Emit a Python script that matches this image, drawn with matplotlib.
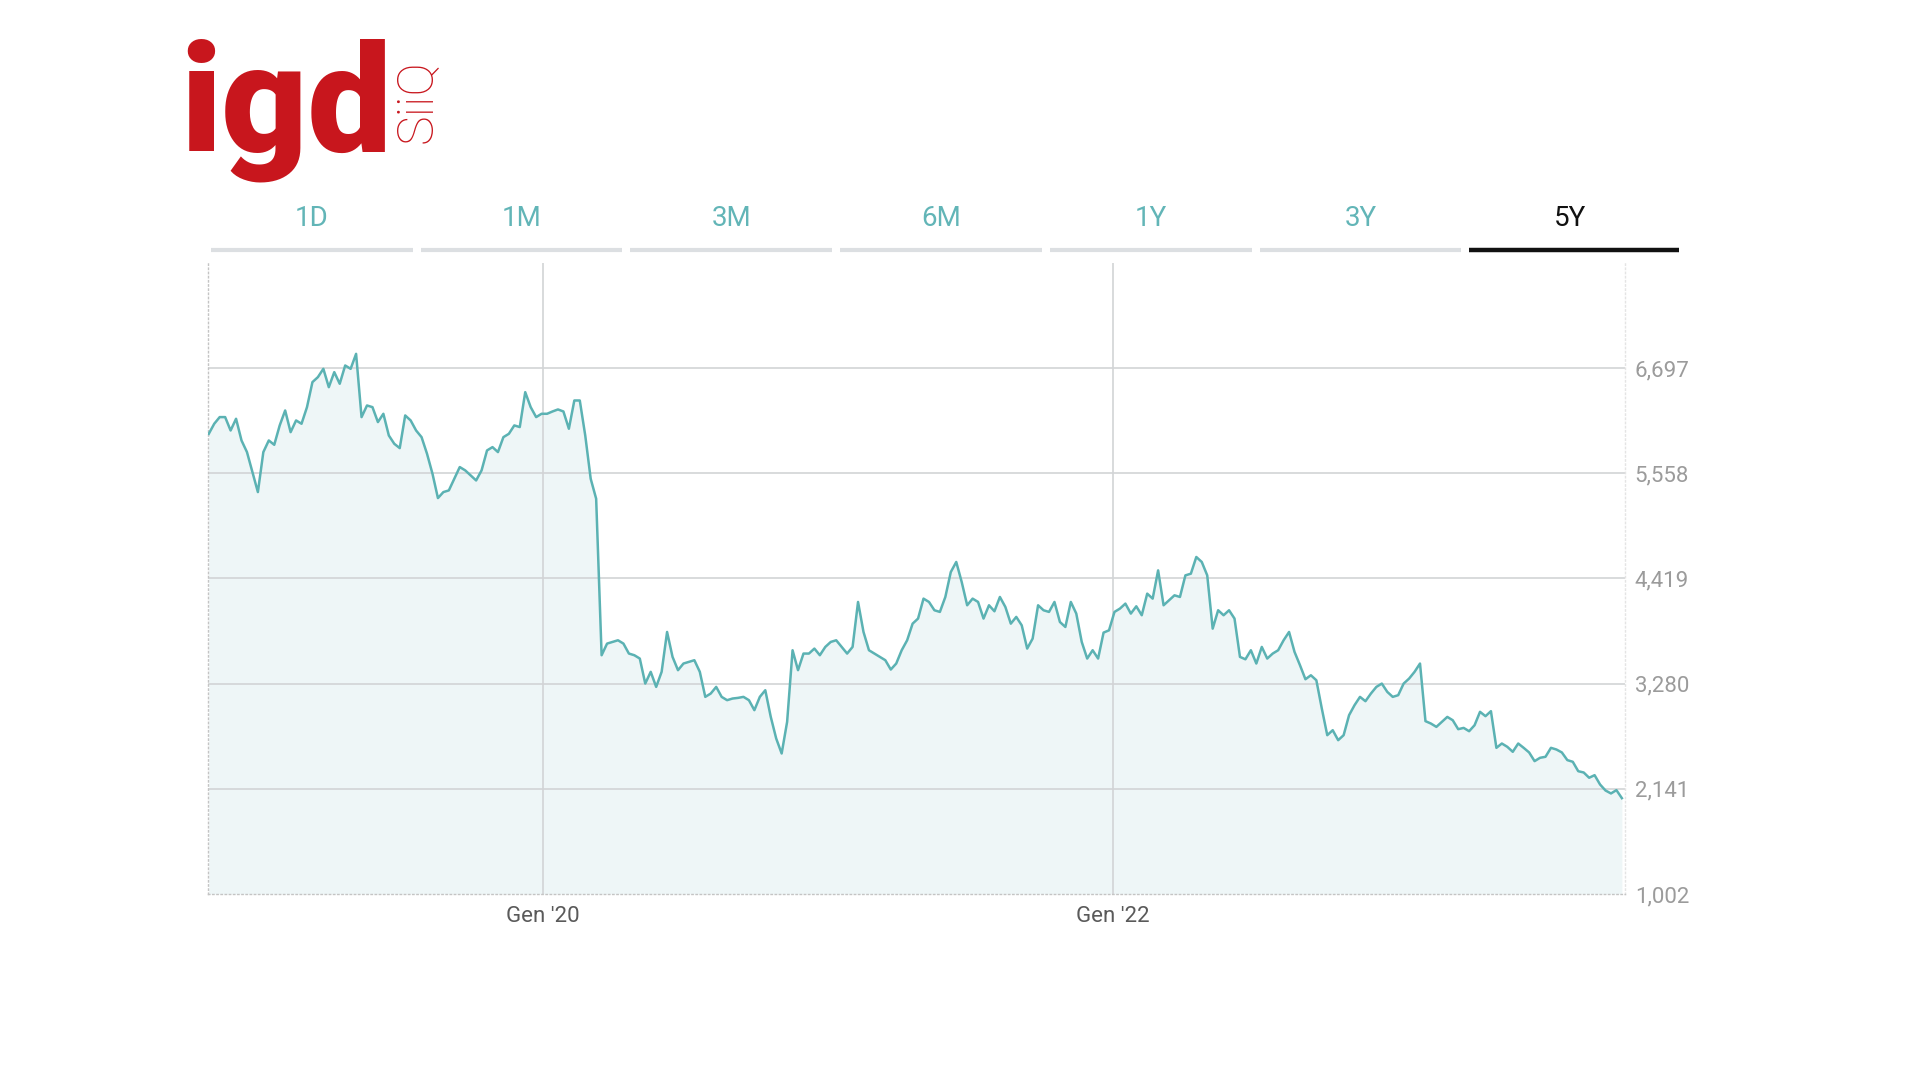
"""
IGD SIIQ - andamento titolo 5Y (chiusure settimanali)
"""

import pandas as pd
import matplotlib.pyplot as plt
import matplotlib

matplotlib.rcParams['font.family'] = ['Roboto', 'DejaVu Sans']

# ====== Dati ======
start_date = '2018-10-29'   # primo lunedi' della finestra 5Y, chiusure settimanali

# Nov 2018 - Ago 2019
closes_1 = [5986, 6095, 6167, 6167, 6022, 6149, 5914, 5788, 5572, 5355,
            5788, 5914, 5867, 6077, 6239, 6004, 6131, 6095, 6275, 6546,
            6600, 6690, 6491, 6654, 6528, 6726, 6690, 6852, 6167, 6293,
            6275, 6113, 6203, 5968, 5878, 5831, 6185, 6131, 6022, 5950,
            5770, 5554, 5290, 5355]
# Set 2019 - Giu 2020
closes_2 = [5373, 5499, 5626, 5590, 5536, 5481, 5590, 5806, 5842, 5788,
            5950, 5986, 6077, 6059, 6437, 6275, 6167, 6203, 6203, 6228,
            6250, 6228, 6041, 6347, 6347, 5968, 5499, 5283, 3588, 3714,
            3732, 3750, 3714, 3606, 3588, 3552, 3281, 3408, 3245, 3408,
            3840, 3570, 3426, 3498]
# Lug 2020 - Mag 2021
closes_3 = [3516, 3534, 3408, 3137, 3173, 3245, 3137, 3101, 3119, 3126,
            3137, 3101, 2993, 3137, 3209, 2921, 2686, 2524, 2866, 3642,
            3426, 3606, 3606, 3660, 3588, 3678, 3732, 3750, 3678, 3606,
            3678, 4165, 3840, 3642, 3606, 3570, 3534, 3433, 3498, 3642,
            3750, 3930, 3985, 4201]
# Mag 2021 - Mar 2022
closes_4 = [4165, 4075, 4057, 4219, 4489, 4598, 4381, 4129, 4201, 4165,
            3985, 4129, 4064, 4219, 4111, 3930, 4003, 3912, 3660, 3768,
            4129, 4075, 4057, 4165, 3948, 3894, 4165, 4039, 3732, 3552,
            3642, 3552, 3833, 3858, 4057, 4093, 4147, 4039, 4118, 4021,
            4255, 4201, 4507, 4129]
# Mar 2022 - Gen 2023
closes_5 = [4183, 4237, 4219, 4453, 4471, 4652, 4598, 4453, 3876, 4075,
            4021, 4075, 3985, 3570, 3544, 3642, 3498, 3678, 3552, 3606,
            3642, 3750, 3840, 3624, 3480, 3328, 3371, 3317, 3011, 2722,
            2776, 2668, 2722, 2939, 3047, 3137, 3090, 3173, 3245, 3281,
            3191, 3137, 3155, 3281]
# Gen 2023 - Ott 2023
closes_6 = [3335, 3408, 3498, 2874, 2848, 2812, 2866, 2920, 2884, 2787,
            2801, 2765, 2830, 2975, 2928, 2982, 2585, 2632, 2596, 2542,
            2632, 2585, 2535, 2441, 2477, 2488, 2585, 2567, 2535, 2452,
            2434, 2332, 2318, 2261, 2289, 2188, 2123, 2091, 2127, 2040]

y_ticks = [1002, 2141, 3280, 4419, 5558, 6697]
x_ticks = ['2020-01-01', '2022-01-01']
x_labels = ["Gen '20", "Gen '22"]
tabs = ['1D', '1M', '3M', '6M', '1Y', '3Y', '5Y']
active_tab = '5Y'

closes = closes_1 + closes_2 + closes_3 + closes_4 + closes_5 + closes_6
dates = pd.date_range(start_date, periods=len(closes), freq='7D')

# ====== Stile ======
color_line = '#5bb2b3'
color_fill = '#eef6f7'
color_grid = '#d2d4d6'
color_tab = '#62b5b7'
color_red = '#c8161d'

W, H = 1920, 1080
fig = plt.figure(figsize=(W / 100, H / 100), dpi=100)

# ====== Grafico ======
ax = fig.add_axes([208 / W, 1 - 894 / H, (1625 - 208) / W, (894 - 263) / H])
ax.fill_between(dates, closes, y_ticks[0], color=color_fill, lw=0, zorder=0.5)
ax.plot(dates, closes, color=color_line, lw=1.8, zorder=3)

for y in y_ticks[1:]:
    ax.axhline(y, color=color_grid, lw=1.2, zorder=1)
for x in x_ticks:
    ax.axvline(pd.Timestamp(x), color=color_grid, lw=1.2, zorder=1)

ax.set_ylim(y_ticks[0], y_ticks[-1] + (y_ticks[1] - y_ticks[0]))
ax.set_xlim(pd.Timestamp('2018-10-28'), pd.Timestamp('2023-10-20'))

ax.yaxis.tick_right()
ax.set_yticks(y_ticks)
ax.set_yticklabels([f"{v:,}" for v in y_ticks])
ax.tick_params(axis='y', length=0, pad=7, labelsize=16, labelcolor='#9b9b9b')
for lab in ax.get_yticklabels():
    lab.set_verticalalignment('center_baseline')

ax.set_xticks([pd.Timestamp(x) for x in x_ticks])
ax.set_xticklabels(x_labels)
ax.tick_params(axis='x', length=0, pad=9, labelsize=16, labelcolor='#5a5a5a')

ax.spines['top'].set_visible(False)
for side in ['left', 'bottom']:
    ax.spines[side].set_linestyle((0, (1, 2)))
    ax.spines[side].set_color('#c4c4c4')
    ax.spines[side].set_linewidth(1)
ax.spines['right'].set_linestyle((0, (1, 2)))
ax.spines['right'].set_color('#e4e4e4')
ax.spines['right'].set_linewidth(1)

# ====== Intestazione: logo + selettore periodo ======
ov = fig.add_axes([0, 0, 1, 1], facecolor='none')
ov.set_xlim(0, W)
ov.set_ylim(H, 0)
ov.axis('off')

ov.text(180, 150, 'igd', fontsize=108, fontweight='black', color=color_red,
        ha='left', va='baseline')
ov.text(417, 101, 'SiiQ', fontsize=36, fontweight='light', color=color_red,
        rotation=90, ha='center', va='center')

step, seg = 209.7, 201.7
for i, lab in enumerate(tabs):
    x0 = 211 + step * i
    active = lab == active_tab
    ov.text(x0 + seg / 2, 218, lab, ha='center', va='center', fontsize=20,
            color='#111111' if active else color_tab)
    x1 = x0 + seg + (8 if active else 0)
    ov.plot([x0, x1], [250, 250], lw=3.2 if active else 3,
            color='#111111' if active else '#dcdfe2', solid_capstyle='butt')

fig.savefig('out.png', dpi=100)
print("Saved: out.png")
